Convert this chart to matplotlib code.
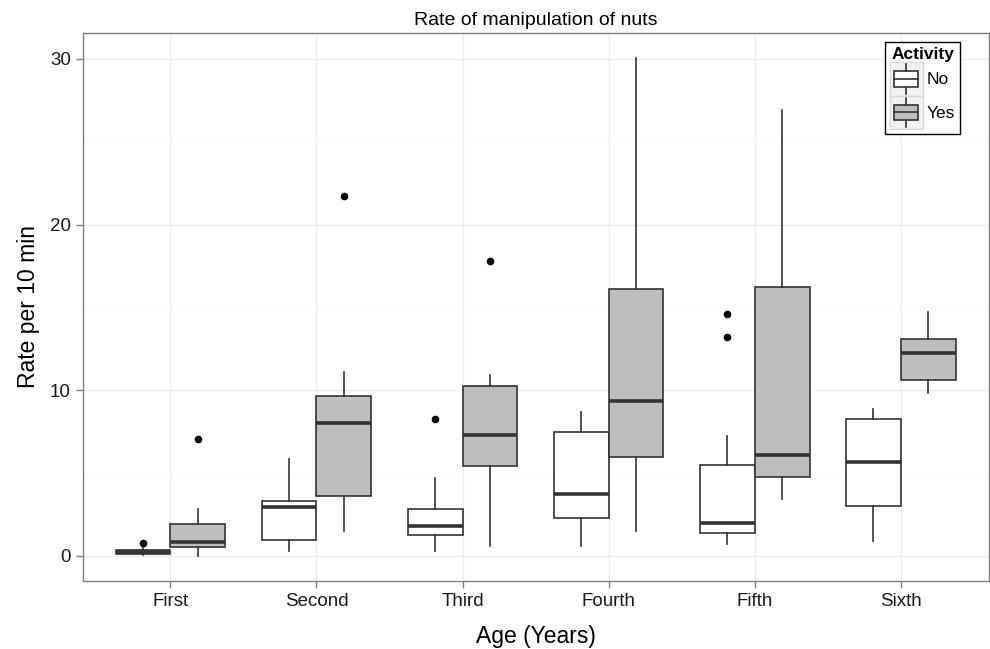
import matplotlib
matplotlib.use("Agg")
import matplotlib.pyplot as plt
from matplotlib.patches import Rectangle, Patch
from matplotlib.lines import Line2D
from matplotlib.legend_handler import HandlerBase

plt.rcParams['font.family'] = ['Liberation Sans', 'DejaVu Sans']

# age classes
categories = ['First', 'Second', 'Third', 'Fourth', 'Fifth', 'Sixth']

# Activity = No
no_whislo = [0.04, 0.30, 0.30, 0.60, 0.74, 0.92]
no_q1 = [0.13, 0.95, 1.29, 2.27, 1.41, 3.02]
no_med = [0.22, 2.94, 1.81, 3.74, 1.99, 5.69]
no_q3 = [0.35, 3.32, 2.86, 7.47, 5.47, 8.29]
no_whishi = [0.46, 5.84, 4.71, 8.71, 7.26, 8.87]
no_fliers = [[0.77], [], [8.29], [], [14.61, 13.20], []]

# Activity = Yes
yes_whislo = [0.02, 1.51, 0.62, 1.53, 3.44, 9.86]
yes_q1 = [0.54, 3.62, 5.43, 5.99, 4.75, 10.64]
yes_med = [0.83, 8.01, 7.28, 9.36, 6.08, 12.23]
yes_q3 = [1.95, 9.68, 10.24, 16.10, 16.22, 13.10]
yes_whishi = [2.82, 11.09, 10.93, 30.04, 26.92, 14.75]
yes_fliers = [[7.06], [21.71], [17.79], [], [], []]

groups = ['No', 'Yes']
group_fill = {'No': 'white', 'Yes': '#bebebe'}
line_col = '#333333'


def make_stats(lo, q1, med, q3, hi, fl):
    return [dict(whislo=a, q1=b, med=c, q3=d, whishi=e, fliers=f)
            for a, b, c, d, e, f in zip(lo, q1, med, q3, hi, fl)]


class BoxKeyHandler(HandlerBase):
    """small boxplot glyph for the legend keys"""
    def create_artists(self, legend, orig_handle, xdescent, ydescent,
                       width, height, fontsize, trans):
        x0, y0 = -xdescent, -ydescent
        cx = x0 + width / 2
        bw = width * 0.75
        bg = Rectangle((x0, y0), width, height, facecolor='#f2f2f2',
                       edgecolor='#d9d9d9', lw=1, transform=trans)
        box = Rectangle((cx - bw / 2, y0 + height * 0.27), bw, height * 0.46,
                        facecolor=orig_handle.get_facecolor(),
                        edgecolor=line_col, lw=1.2, transform=trans)
        med = Line2D([cx - bw / 2, cx + bw / 2], [y0 + height / 2] * 2,
                     color=line_col, lw=1.2, transform=trans)
        w1 = Line2D([cx, cx], [y0 + height * 0.06, y0 + height * 0.27],
                    color=line_col, lw=1.2, transform=trans)
        w2 = Line2D([cx, cx], [y0 + height * 0.73, y0 + height * 0.94],
                    color=line_col, lw=1.2, transform=trans)
        return [bg, box, med, w1, w2]


fig = plt.figure(figsize=(9.9, 6.49), dpi=100)
ax = fig.add_axes([0.0835, 0.105, 0.915, 0.844])

x = list(range(1, len(categories) + 1))
width = 0.375
stats_by_group = {
    'No': make_stats(no_whislo, no_q1, no_med, no_q3, no_whishi, no_fliers),
    'Yes': make_stats(yes_whislo, yes_q1, yes_med, yes_q3, yes_whishi, yes_fliers),
}
offsets = {'No': -width / 2, 'Yes': width / 2}

for g in groups:
    ax.bxp(stats_by_group[g], positions=[p + offsets[g] for p in x],
           widths=width, patch_artist=True, showcaps=False,
           boxprops=dict(facecolor=group_fill[g], edgecolor=line_col, lw=1.2),
           whiskerprops=dict(color=line_col, lw=1.2),
           medianprops=dict(color=line_col, lw=2.6),
           flierprops=dict(marker='o', markerfacecolor='black',
                           markeredgecolor='black', markersize=4.5),
           manage_ticks=False, zorder=3)

# theme_bw look
ax.set_xlim(0.4, 6.6)
ax.set_ylim(-1.5, 31.55)
ax.set_xticks(x)
ax.set_xticklabels(categories)
ax.set_yticks([0, 10, 20, 30])
ax.set_yticks([5, 15, 25], minor=True)
ax.grid(True, which='major', color='#ebebeb', lw=1, zorder=0)
ax.grid(True, which='minor', axis='y', color='#fafafa', lw=1, zorder=0)
ax.set_axisbelow(True)
for s in ax.spines.values():
    s.set_color('#7f7f7f')
    s.set_linewidth(1)
ax.tick_params(axis='both', which='major', colors='#7f7f7f', length=5,
               width=1, labelsize=13.5, labelcolor='#1a1a1a')
ax.tick_params(axis='y', which='minor', length=0)

ax.set_title('Rate of manipulation of nuts', fontsize=14, pad=6)
ax.set_xlabel('Age (Years)', fontsize=16.5, labelpad=11)
ax.set_ylabel('Rate per 10 min', fontsize=16.5, labelpad=7)

handles = [Patch(facecolor=group_fill[g], edgecolor=line_col) for g in groups]
leg = ax.legend(handles, groups, title='Activity', loc='upper right',
                bbox_to_anchor=(0.969, 0.984), borderaxespad=0,
                handler_map={Patch: BoxKeyHandler()},
                fontsize=12.5, title_fontsize=12.5, handlelength=1.85,
                handleheight=2.6, labelspacing=0, handletextpad=0.25,
                borderpad=0.3, fancybox=False, framealpha=1)
leg.get_frame().set_edgecolor('black')
leg.get_frame().set_linewidth(1)
leg.get_title().set_fontweight('bold')

fig.savefig('out.png', dpi=100)
